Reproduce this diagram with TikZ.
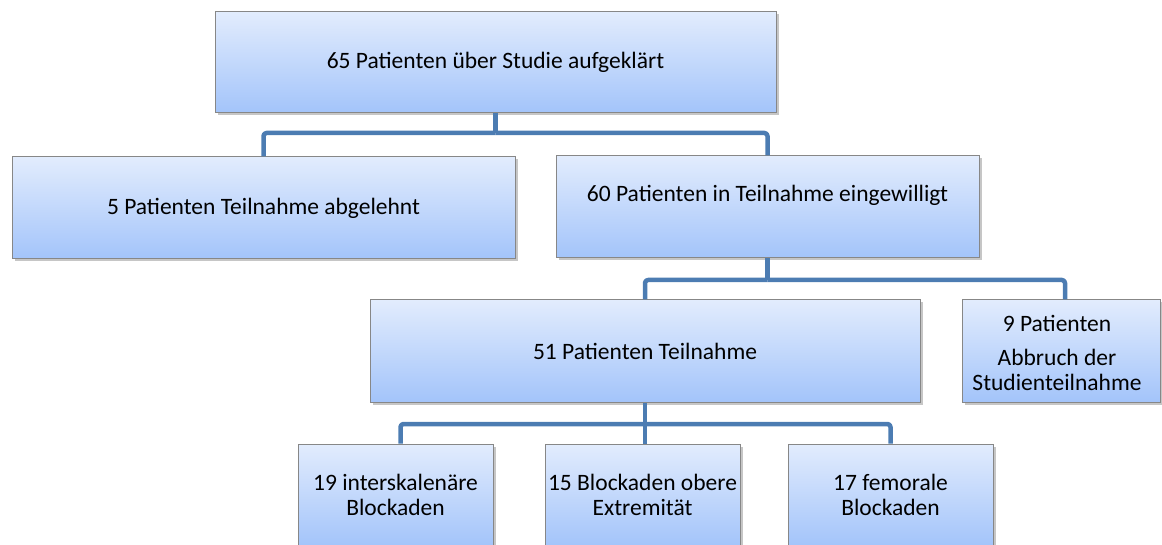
\documentclass[tikz,border=0pt]{standalone}
\usepackage{fontspec}
\setmainfont{Carlito}
\usetikzlibrary{shadows}
\definecolor{boxtop}{RGB}{226,236,253}
\definecolor{boxbot}{RGB}{163,196,250}
\definecolor{boxline}{RGB}{135,135,135}
\definecolor{connblue}{RGB}{76,124,178}
\tikzset{
  box/.style={draw=boxline, line width=1pt, top color=boxtop, bottom color=boxbot,
    drop shadow={shadow xshift=2.5pt, shadow yshift=-2.5pt, opacity=0.45},
    align=center, inner sep=0pt, font=\fontsize{23.5}{25.5}\selectfont},
  conn/.style={draw=connblue, line width=4.5pt, rounded corners=3pt, line join=round},
  lbl/.style={align=center, inner sep=0pt, font=\fontsize{23.5}{25.5}\selectfont}
}
\begin{document}
\begin{tikzpicture}[x=1pt,y=-1pt]
\useasboundingbox (0,0) rectangle (1162,545);
\clip (0,0) rectangle (1162,545);
\coordinate (c1) at (495.5,133);
\coordinate (c2) at (767.5,280);
\coordinate (c3) at (645,424);
\node[box, minimum width=561pt, minimum height=101pt] (T) at (495.5,62.5) {65 Patienten über Studie aufgeklärt};
\node[box, minimum width=503pt, minimum height=102pt] (L) at (263.5,208) {5 Patienten Teilnahme abgelehnt};
\node[box, minimum width=423pt, minimum height=102pt] (R) at (767.5,207) {};
\node[lbl] (Rt) at (767.5,195) {60 Patienten in Teilnahme eingewilligt};
\node[box, minimum width=550pt, minimum height=102pt] (M) at (645,351) {51 Patienten Teilnahme};
\node[box, minimum width=198pt, minimum height=102pt] (A) at (1061,351) {};
\node[lbl] (At) at (1057,353) {9 Patienten\\[8pt]Abbruch der\\Studienteilnahme};
\node[box, minimum width=195pt, minimum height=102pt] (B1) at (395.5,495) {19 interskalenäre\\Blockaden};
\node[box, minimum width=195pt, minimum height=102pt] (B2) at (642.5,495) {15 Blockaden obere\\Extremität};
\node[box, minimum width=205pt, minimum height=102pt] (B3) at (890.5,495) {17 femorale\\Blockaden};
\draw[conn] (T.south) -- (c1);
\draw[conn] (c1) -| (L.north);
\draw[conn] (c1) -| (R.north);
\draw[conn] (R.south) -- (c2);
\draw[conn] (c2) -| (M.north);
\draw[conn] (c2) -| ([xshift=4pt]A.north);
\draw[conn] (M.south) -- (c3);
\draw[conn] (c3) -| ([xshift=5pt]B1.north);
\draw[conn] (c3) -- (B2.north -| c3);
\draw[conn] (c3) -| (B3.north);
\end{tikzpicture}
\end{document}
